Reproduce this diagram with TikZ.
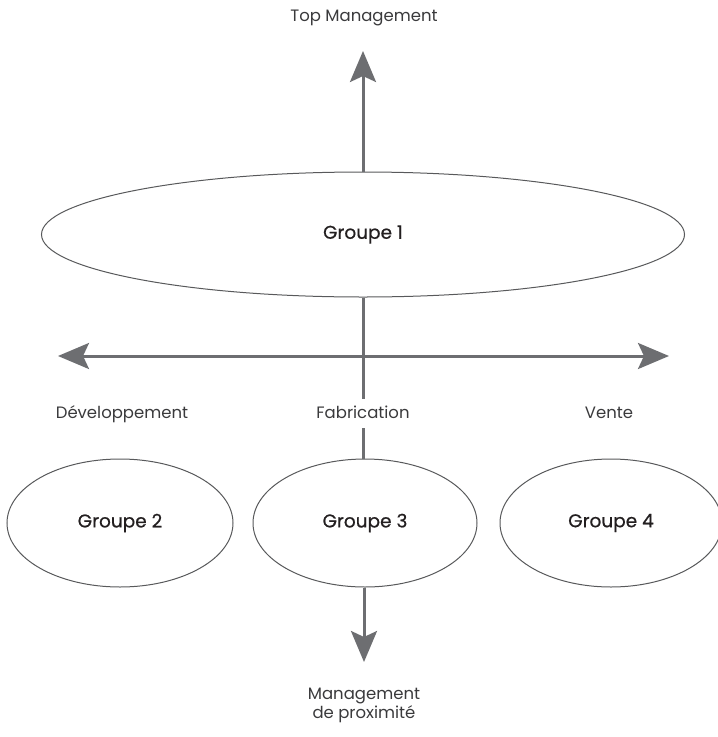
\documentclass[tikz,border=0pt]{standalone}
\usepackage{fontspec}
\setmainfont{Poppins}
\newfontfamily\grpfont{Poppins}[FakeBold=0.6]
\usetikzlibrary{shapes.geometric,arrows.meta}
\definecolor{axisgrey}{HTML}{6D6E71}
\definecolor{rimgrey}{HTML}{58595B}
\definecolor{labgrey}{HTML}{3A3A3C}
\definecolor{inkdark}{HTML}{231F20}
\begin{document}
\begin{tikzpicture}[x=1pt,y=-1pt,
  grp/.style={ellipse, draw=rimgrey, line width=1pt, inner sep=0pt,
    text=inkdark, font=\grpfont\fontsize{18.5}{20}\selectfont},
  lab/.style={text=labgrey, font=\fontsize{16.5}{18.5}\selectfont},
  axis/.style={draw=axisgrey, line width=3pt},
  axisarrow/.style={axis, -{Stealth[length=31pt,width=26pt,inset=6pt]}},
  axisboth/.style={axis, {Stealth[length=31pt,width=26pt,inset=6pt]}-{Stealth[length=31pt,width=26pt,inset=6pt]}}]
\useasboundingbox (0,0) rectangle (718,737);

% groups
\node[grp, minimum width=643pt, minimum height=125pt] (g1) at (363,234.5) {Groupe 1};
\node[grp, minimum width=226pt, minimum height=128pt] (g2) at (120,523) {Groupe 2};
\node[grp, minimum width=224pt, minimum height=128pt] (g3) at (365,523) {Groupe 3};
\node[grp, minimum width=222pt, minimum height=128pt] (g4) at (611,523) {Groupe 4};

% labels
\node[lab, anchor=base] (top) at (364,21) {Top Management};
\node[lab, anchor=base] (dev) at (122,418) {Développement};
\node[lab, anchor=base, text height=13pt, text depth=4pt, inner ysep=6pt] (fab) at (363,418) {Fabrication};
\node[lab, anchor=base] (ven) at (609,418) {Vente};
\node[lab, anchor=north, align=center, inner sep=0pt] (prox) at (364,688) {Management\\de proximité};

% arrow tips
\coordinate (uptip) at (363,51);
\coordinate (lefttip) at (58,356);
\coordinate (righttip) at (669,356);
\coordinate (downtip) at (364,662);

% axes
\draw[axisarrow] (g1.north) -- (uptip);
\draw[axisboth] (lefttip) -- (righttip);
\draw[axis] (g1.south) -- (fab.north);
\draw[axis] (fab.south) -- (fab.south |- g3.north);
\draw[axisarrow] (downtip |- g3.south) -- (downtip);
\end{tikzpicture}
\end{document}
